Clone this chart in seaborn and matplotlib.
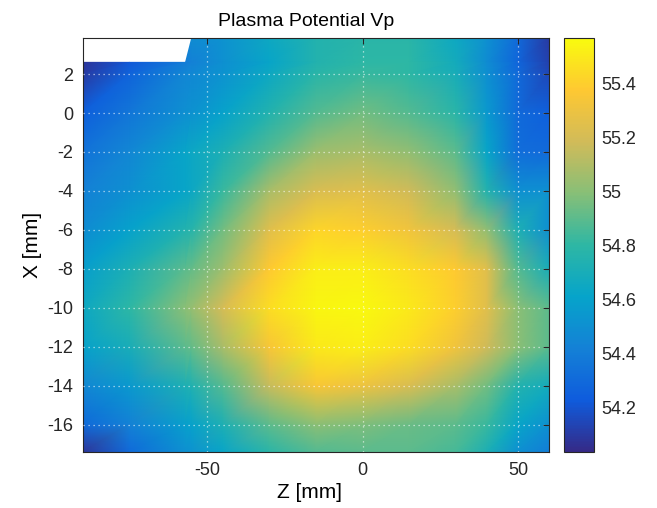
import numpy as np
import matplotlib
matplotlib.use("Agg")
import matplotlib.pyplot as plt
import matplotlib.tri as mtri
import seaborn as sns
from matplotlib.colors import Normalize
from matplotlib.cm import ScalarMappable

# ---- data ----
z_mm = [-90, -75, -57, -55, -45, -30, -15, 0, 15, 30, 40, 50, 60]
x_mm = [3.85, 2.6, 2, 0, -2, -4, -6, -8, -10, -12, -14, -16, -17.4]
nan = np.nan
vp_x_p385 = [nan, nan, nan, 54.48, 54.52, 54.65, 54.75, 54.78, 54.78, 54.65, 54.50, 54.30, 54.10]
vp_x_p26 = [54.08, 54.22, 54.40, 54.42, 54.50, 54.62, 54.75, 54.80, 54.80, 54.68, 54.48, 54.28, 54.12]
vp_x_p2 = [54.10, 54.27, 54.45, 54.46, 54.52, 54.65, 54.78, 54.82, 54.80, 54.70, 54.50, 54.30, 54.15]
vp_x_0 = [54.25, 54.36, 54.50, 54.51, 54.60, 54.75, 54.88, 54.95, 54.88, 54.78, 54.55, 54.30, 54.25]
vp_x_m2 = [54.35, 54.45, 54.62, 54.64, 54.72, 54.88, 55.05, 55.08, 55.02, 54.90, 54.62, 54.32, 54.30]
vp_x_m4 = [54.42, 54.50, 54.62, 54.64, 54.82, 55.08, 55.22, 55.25, 55.18, 55.02, 54.75, 54.50, 54.50]
vp_x_m6 = [54.48, 54.60, 54.75, 54.77, 54.95, 55.25, 55.42, 55.40, 55.32, 55.20, 55.02, 54.72, 54.50]
vp_x_m8 = [54.58, 54.72, 54.90, 54.92, 55.05, 55.38, 55.52, 55.52, 55.45, 55.38, 55.25, 54.88, 54.70]
vp_x_m10 = [54.65, 54.80, 55.00, 55.03, 55.20, 55.45, 55.55, 55.56, 55.50, 55.40, 55.25, 55.00, 54.90]
vp_x_m12 = [54.60, 54.70, 54.90, 54.92, 55.08, 55.35, 55.50, 55.52, 55.45, 55.32, 55.18, 55.00, 54.90]
vp_x_m14 = [54.45, 54.55, 54.72, 54.74, 54.88, 55.16, 55.35, 55.30, 55.22, 55.08, 54.95, 54.75, 54.68]
vp_x_m16 = [54.30, 54.42, 54.58, 54.60, 54.72, 54.90, 55.00, 54.97, 54.93, 54.90, 54.82, 54.62, 54.50]
vp_x_m174 = [54.08, 54.30, 54.50, 54.52, 54.62, 54.78, 54.88, 54.90, 54.90, 54.85, 54.72, 54.50, 54.40]

x_ticks = [2, 0, -2, -4, -6, -8, -10, -12, -14, -16]
z_ticks = [-50, 0, 50]
cbar_ticks = [54.2, 54.4, 54.6, 54.8, 55.0, 55.2, 55.4]
v_min, v_max = 54.035, 55.568

# ---- style ----
sns.set_theme(style="white")
plt.rcParams["font.family"] = ["Liberation Sans", "DejaVu Sans"]
plt.rcParams["axes.unicode_minus"] = False

parula = sns.blend_palette(["#352A87", "#0F5CDD", "#1481D6", "#06A4CA", "#2EB7A4",
                            "#87BF77", "#D1BB59", "#FEC832", "#F9FB0E"], n_colors=256, as_cmap=True)

vp = np.array([vp_x_p385, vp_x_p26, vp_x_p2, vp_x_0, vp_x_m2, vp_x_m4, vp_x_m6,
               vp_x_m8, vp_x_m10, vp_x_m12, vp_x_m14, vp_x_m16, vp_x_m174])
Z, X = np.meshgrid(z_mm, x_mm)
nr, nc = vp.shape

# triangulate the measurement grid (diagonal from top-right to bottom-left of each cell)
tris = []
for i in range(nr - 1):
    for j in range(nc - 1):
        a = i * nc + j
        b = i * nc + j + 1
        c = (i + 1) * nc + j + 1
        d = (i + 1) * nc + j
        tris.append([a, b, d])
        tris.append([b, c, d])
tris = np.array(tris)
flat = vp.ravel()
mask = np.isnan(flat)[tris].any(axis=1)
tri = mtri.Triangulation(Z.ravel(), X.ravel(), tris, mask=mask)
vals = np.where(np.isnan(flat), np.nanmean(flat), flat)

fig = plt.figure(figsize=(6.57, 5.08), dpi=100)
ax = fig.add_axes([83 / 657, 56 / 508, 466 / 657, 414 / 508])
cax = fig.add_axes([564 / 657, 56 / 508, 30 / 657, 414 / 508])

ax.tripcolor(tri, vals, shading="gouraud", cmap=parula, vmin=v_min, vmax=v_max)

ax.set_xlim(-90, 60)
ax.set_ylim(-17.4, 3.85)
ax.set_xticks(z_ticks)
ax.set_yticks(x_ticks)
ax.set_xticklabels([f"{t:g}" for t in z_ticks])
ax.set_yticklabels([f"{t:g}" for t in x_ticks])

txt = "#262626"
ax.grid(True, color="white", linestyle=(0, (1, 3)), linewidth=0.9, alpha=0.7)
ax.set_axisbelow(False)
ax.tick_params(direction="in", length=4, width=0.8, colors=txt, labelsize=13,
               top=True, right=True, pad=7)
for s in ax.spines.values():
    s.set_color(txt)
    s.set_linewidth(0.8)
    s.set_visible(True)

ax.set_title("Plasma Potential Vp", fontsize=14, color="black", pad=9, x=0.478)
ax.set_xlabel("Z [mm]", fontsize=15, color="black")
ax.set_ylabel("X [mm]", fontsize=15, color="black", labelpad=4)
ax.xaxis.set_label_coords(0.485, -0.075)

sm = ScalarMappable(norm=Normalize(v_min, v_max), cmap=parula)
cb = fig.colorbar(sm, cax=cax, ticks=cbar_ticks)
cb.ax.set_yticklabels([f"{t:g}" for t in cbar_ticks])
cb.ax.tick_params(direction="in", length=4, width=0.8, colors=txt, labelsize=13, pad=5)
cb.outline.set_edgecolor(txt)
cb.outline.set_linewidth(0.8)

fig.savefig("out.png", dpi=100)
